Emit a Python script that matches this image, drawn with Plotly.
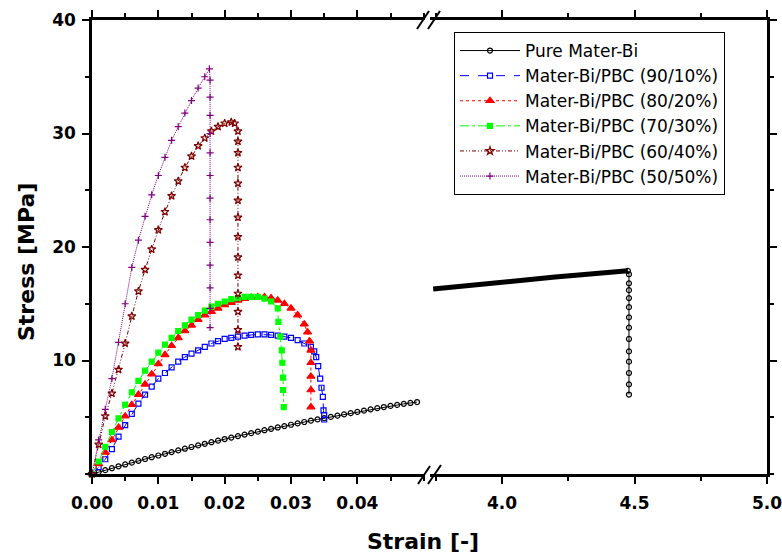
import plotly.graph_objects as go

# ---- data ----
pure_strain = [0.000, 0.001, 0.002, 0.003, 0.004, 0.005, 0.006, 0.007, 0.008, 0.009,
               0.010, 0.011, 0.012, 0.013, 0.014, 0.015, 0.016, 0.017, 0.018, 0.019,
               0.020, 0.021, 0.022, 0.023, 0.024, 0.025, 0.026, 0.027, 0.028, 0.029,
               0.030, 0.031, 0.032, 0.033, 0.034, 0.035, 0.036, 0.037, 0.038, 0.039,
               0.040, 0.041, 0.042, 0.043, 0.044, 0.045, 0.046, 0.047, 0.048, 0.049]
pure_stress = [0.00, 0.17, 0.34, 0.51, 0.68, 0.84, 1.00, 1.16, 1.32, 1.48,
               1.63, 1.78, 1.93, 2.08, 2.23, 2.38, 2.52, 2.66, 2.80, 2.94,
               3.08, 3.21, 3.34, 3.47, 3.60, 3.73, 3.86, 3.98, 4.10, 4.22,
               4.34, 4.46, 4.58, 4.70, 4.81, 4.92, 5.03, 5.14, 5.25, 5.36,
               5.47, 5.58, 5.69, 5.80, 5.90, 6.00, 6.09, 6.18, 6.26, 6.34]

pure_long_strain = [3.74, 3.80, 3.90, 4.00, 4.10, 4.20, 4.30, 4.40, 4.46, 4.475]
pure_long_stress = [16.3, 16.45, 16.65, 16.85, 17.1, 17.35, 17.55, 17.8, 17.95, 17.9]
pure_break_strain = [4.475, 4.479, 4.479, 4.479, 4.479, 4.479, 4.479, 4.479,
                     4.479, 4.479, 4.479, 4.479, 4.479, 4.479]
pure_break_stress = [17.9, 17.6, 16.8, 16.2, 15.5, 14.7, 13.8, 12.9,
                     11.9, 10.8, 9.9, 8.9, 7.9, 7.0]

b90_strain = [0.000, 0.001, 0.002, 0.003, 0.004, 0.005, 0.006, 0.007, 0.008, 0.009,
              0.010, 0.011, 0.012, 0.013, 0.014, 0.015, 0.016, 0.017, 0.018, 0.019,
              0.020, 0.021, 0.022, 0.023, 0.024, 0.025, 0.026, 0.027, 0.028, 0.029,
              0.030, 0.031, 0.032, 0.033, 0.0335, 0.0338, 0.0341, 0.0344, 0.0346,
              0.0348, 0.0349, 0.0350, 0.0350]
b90_stress = [0.0, 0.6, 1.3, 2.2, 3.3, 4.3, 5.3, 6.2, 7.0, 7.7,
              8.4, 8.9, 9.4, 9.9, 10.3, 10.6, 10.9, 11.2, 11.5, 11.7,
              11.9, 12.0, 12.1, 12.2, 12.25, 12.3, 12.3, 12.25, 12.2, 12.1,
              12.0, 11.8, 11.5, 11.2, 10.8, 10.3, 9.5, 8.4, 7.6,
              6.8, 5.6, 5.2, 4.8]

b80_strain = [0.000, 0.001, 0.002, 0.003, 0.004, 0.005, 0.006, 0.007, 0.008, 0.009,
              0.010, 0.011, 0.012, 0.013, 0.014, 0.015, 0.016, 0.017, 0.018, 0.019,
              0.020, 0.021, 0.022, 0.023, 0.024, 0.025, 0.026, 0.027, 0.028, 0.029,
              0.030, 0.031, 0.032, 0.0325, 0.0328, 0.0330, 0.0330, 0.0330, 0.0330, 0.0330]
b80_stress = [0.0, 0.9, 1.9, 3.0, 4.1, 5.1, 6.1, 7.0, 7.9, 8.8,
              9.7, 10.5, 11.3, 12.0, 12.6, 13.1, 13.6, 14.0, 14.3, 14.6,
              14.9, 15.1, 15.3, 15.45, 15.55, 15.6, 15.6, 15.5, 15.3, 15.0,
              14.6, 14.0, 13.2, 12.5, 11.7, 10.9, 9.8, 8.6, 7.4, 5.9]

b70_strain = [0.000, 0.001, 0.002, 0.003, 0.004, 0.005, 0.006, 0.007, 0.008, 0.009,
              0.010, 0.011, 0.012, 0.013, 0.014, 0.015, 0.016, 0.017, 0.018, 0.019,
              0.020, 0.021, 0.022, 0.023, 0.024, 0.025, 0.026, 0.027, 0.028,
              0.0281, 0.0284, 0.0286, 0.0287, 0.0288, 0.0288, 0.0289]
b70_stress = [0.0, 1.1, 2.4, 3.7, 4.9, 6.1, 7.2, 8.2, 9.1, 9.9,
              10.7, 11.4, 12.0, 12.6, 13.1, 13.6, 14.0, 14.4, 14.75, 15.0,
              15.2, 15.4, 15.5, 15.6, 15.6, 15.6, 15.45, 15.2, 14.6,
              13.4, 12.1, 10.9, 9.8, 8.5, 7.4, 5.9]

b60_strain = [0.000, 0.001, 0.002, 0.003, 0.004, 0.005, 0.006, 0.007, 0.008, 0.009,
              0.010, 0.011, 0.012, 0.013, 0.014, 0.015, 0.016, 0.017, 0.018, 0.019,
              0.020, 0.021, 0.0215, 0.022, 0.022, 0.022, 0.022, 0.022, 0.022, 0.022,
              0.022, 0.022, 0.022, 0.022, 0.022, 0.022, 0.022]
b60_stress = [0.0, 2.6, 5.1, 7.1, 9.2, 11.5, 13.9, 16.1, 18.0, 19.8,
              21.5, 23.1, 24.5, 25.8, 27.0, 28.0, 28.9, 29.6, 30.2, 30.6,
              30.9, 31.0, 30.9, 30.2, 29.3, 28.3, 27.0, 25.6, 24.1, 22.6,
              20.9, 19.1, 17.5, 15.9, 14.3, 12.7, 11.2]

b50_strain = [0.000, 0.001, 0.002, 0.003, 0.004, 0.005, 0.006, 0.007, 0.008, 0.009,
              0.010, 0.011, 0.012, 0.013, 0.014, 0.015, 0.016, 0.017, 0.0177,
              0.0178, 0.0178, 0.0178, 0.0178, 0.0178, 0.0178, 0.0178, 0.0178,
              0.0178, 0.0178, 0.0178, 0.0178, 0.0178]
b50_stress = [0.0, 3.0, 5.7, 8.4, 11.6, 15.0, 18.2, 20.6, 22.7, 24.6,
              26.3, 27.9, 29.4, 30.6, 31.8, 32.9, 34.0, 35.0, 35.7,
              34.7, 33.2, 31.6, 30.0, 28.3, 26.3, 24.3, 22.4,
              20.4, 18.4, 16.4, 14.6, 12.9]

left_ticks = [0.00, 0.01, 0.02, 0.03, 0.04]
right_ticks = [4.0, 4.5, 5.0]
stress_ticks = [10, 20, 30, 40]

# ---- figure ----
W, H = 782, 555
L, R, T, B = 92, 15, 20, 81
pw, ph = W - L - R, H - T - B


def px_x(p):
    return (p - L) / pw


def px_y(p):
    return (H - B - p) / ph


fig = go.Figure()

series = [
    ("Pure Mater-Bi", pure_strain, pure_stress, "black", "solid", "circle-open", 5),
    ("Mater-Bi/PBC (90/10%)", b90_strain, b90_stress, "#0000ff", "dash", "square-open", 5),
    ("Mater-Bi/PBC (80/20%)", b80_strain, b80_stress, "#ff0000", "dot", "triangle-up", 7),
    ("Mater-Bi/PBC (70/30%)", b70_strain, b70_stress, "#00ff00", "dashdot", "square", 5),
    ("Mater-Bi/PBC (60/40%)", b60_strain, b60_stress, "#800000", "4px,2px,1px,2px,1px,2px", "star-open", 6),
    ("Mater-Bi/PBC (50/50%)", b50_strain, b50_stress, "#800080", "1px,1px", "cross-thin-open", 5),
]

for name, xs, ys, col, dash, sym, size in series:
    fig.add_trace(go.Scatter(
        x=xs, y=ys, name=name, mode="lines+markers", xaxis="x", yaxis="y",
        line=dict(color=col, width=1, dash=dash),
        marker=dict(symbol=sym, size=size, color=col, line=dict(color=col, width=1.2)),
        cliponaxis=False,
    ))

# long-strain part of pure Mater-Bi on the right-hand axis
fig.add_trace(go.Scatter(
    x=pure_long_strain, y=pure_long_stress, mode="lines", xaxis="x2", yaxis="y2",
    line=dict(color="black", width=5), showlegend=False,
))
fig.add_trace(go.Scatter(
    x=pure_break_strain, y=pure_break_stress, mode="lines+markers", xaxis="x2", yaxis="y2",
    line=dict(color="black", width=1),
    marker=dict(symbol="circle-open", size=5, color="black", line=dict(color="black", width=1.2)),
    showlegend=False,
))

tickfont = dict(family="DejaVu Sans", size=17, color="black", weight="bold")
axis_common = dict(
    showline=True, linecolor="black", linewidth=2.5, showgrid=False, zeroline=False,
    ticks="outside", ticklen=7, tickwidth=2, tickcolor="black", tickfont=tickfont,
    automargin=False, ticklabeloverflow="allow",
)

fig.update_layout(
    width=W, height=H,
    margin=dict(l=L, r=R, t=T, b=B),
    paper_bgcolor="white", plot_bgcolor="white",
    xaxis=dict(axis_common, domain=[0, px_x(425)], range=[0, 0.0502], anchor="y",
               tickvals=left_ticks, tickformat=".2f", mirror="ticks", ticklabelstandoff=5,
               minor=dict(dtick=0.005, ticks="outside", ticklen=4, tickwidth=1.5, tickcolor="black")),
    xaxis2=dict(axis_common, domain=[px_x(430), 1], range=[3.728, 5.0], anchor="y2",
                tickvals=right_ticks, tickformat=".1f", mirror="ticks", ticklabelstandoff=5,
                minor=dict(dtick=0.25, tick0=4.0, ticks="outside", ticklen=4, tickwidth=1.5, tickcolor="black")),
    yaxis=dict(axis_common, range=[0, 40], anchor="x", tickvals=stress_ticks, ticklabelstandoff=3,
               minor=dict(dtick=5, ticks="outside", ticklen=4, tickwidth=1.5, tickcolor="black")),
    yaxis2=dict(axis_common, range=[0, 40], anchor="x2", side="right", matches="y",
                showticklabels=False, tickvals=stress_ticks,
                minor=dict(dtick=5, ticks="outside", ticklen=4, tickwidth=1.5, tickcolor="black")),
    legend=dict(
        x=px_x(454), y=px_y(32), xanchor="left", yanchor="top",
        bordercolor="black", borderwidth=1, bgcolor="white",
        font=dict(family="DejaVu Sans", size=17, color="black"),
        tracegroupgap=0, itemwidth=60,
    ),
    showlegend=True,
)

# axis titles
title_font = dict(family="DejaVu Sans", size=22, color="black", weight="bold")
fig.add_annotation(text="Strain [-]", x=px_x(423), y=px_y(541), xref="paper", yref="paper",
                   xanchor="center", yanchor="middle", showarrow=False, font=title_font)
fig.add_annotation(text="Stress [MPa]", x=px_x(26), y=px_y(262), xref="paper", yref="paper",
                   xanchor="center", yanchor="middle", textangle=-90, showarrow=False,
                   font=title_font)

# axis break marks "//"
for (x0, y0, x1, y1) in [(417, 29, 429, 11), (428, 29, 440, 11),
                         (418, 484, 430, 466), (428, 484, 441, 465)]:
    fig.add_shape(type="line", xref="paper", yref="paper",
                  x0=px_x(x0), y0=px_y(y0), x1=px_x(x1), y1=px_y(y1),
                  line=dict(color="black", width=2))

# page body has a default 8px margin; drop it so the figure sits at the window origin
fig.write_html("out.html", config={"displayModeBar": False},
               post_script="document.body.style.margin='0';")
